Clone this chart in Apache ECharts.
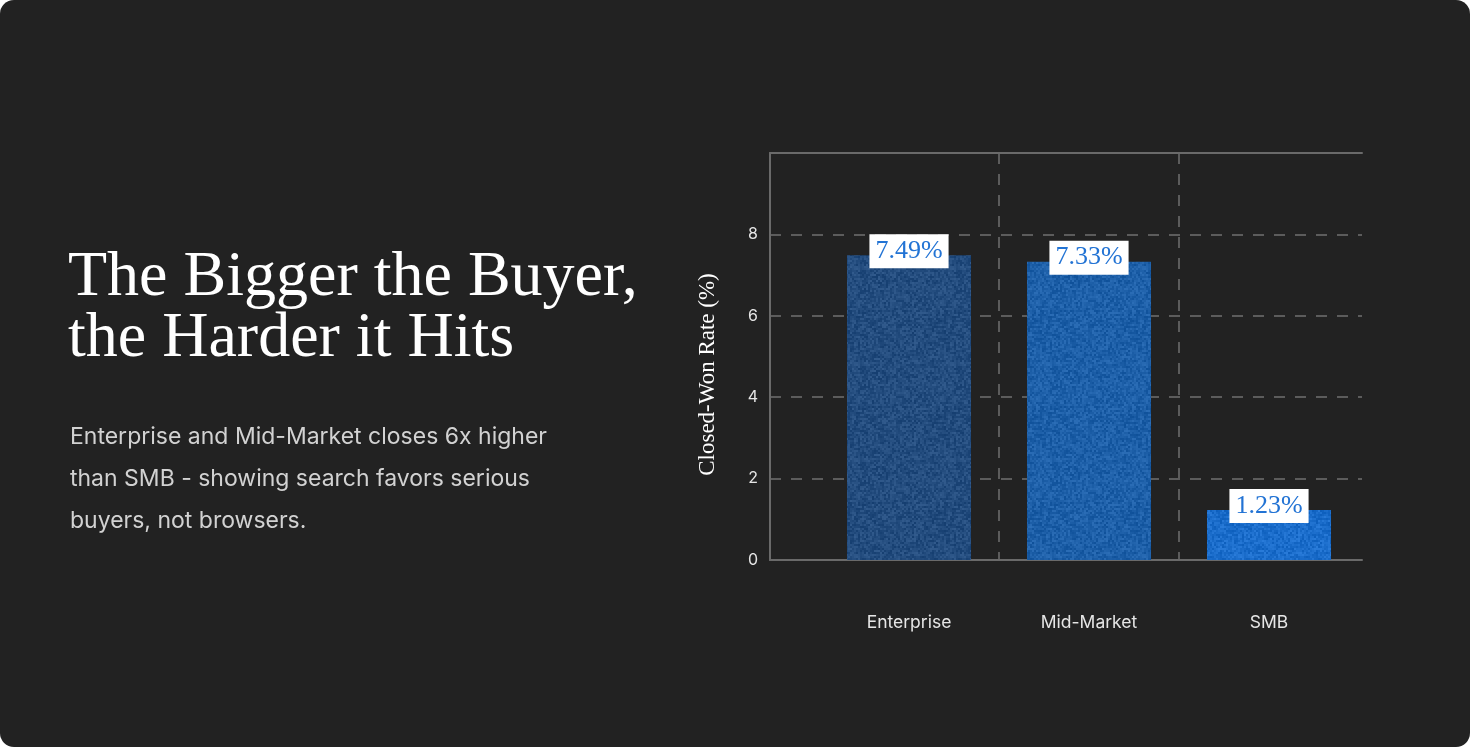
<!DOCTYPE html>
<html><head><meta charset="utf-8">
<script src="https://cdn.jsdelivr.net/npm/echarts@6/dist/echarts.min.js"></script>
<style>
html,body{margin:0;padding:0;background:#ffffff;}
#chart{width:1470px;height:747px;background:#222222;border-radius:14px;overflow:hidden;}
</style></head><body>
<div id="chart"></div>
<script>
const categories = ['Enterprise', 'Mid-Market', 'SMB'];
const closedWonRate = [7.49, 7.33, 1.23];
const barColors = ['#234c7e', '#1d5fa8', '#1b6dcb'];
const titleLines = ['The Bigger the Buyer,', 'the Harder it Hits'];
const subtitleLines = ['Enterprise and Mid-Market closes 6x higher', 'than SMB - showing search favors serious', 'buyers, not browsers.'];
const yAxisName = 'Closed-Won Rate (%)';

function hash(x, y) {
  let n = Math.imul(x, 374761393) ^ Math.imul(y, 668265263);
  n = Math.imul(n ^ (n >>> 13), 1274126177);
  n = n ^ (n >>> 16);
  return ((n >>> 0) % 1000) / 500 - 1;
}
function noiseTexture(hex) {
  const c = document.createElement('canvas');
  c.width = c.height = 96;
  const ctx = c.getContext('2d');
  const r = parseInt(hex.slice(1, 3), 16), g = parseInt(hex.slice(3, 5), 16), b = parseInt(hex.slice(5, 7), 16);
  for (let y = 0; y < 48; y++) {
    for (let x = 0; x < 48; x++) {
      const d = hash(x, y) * 14;
      const cl = v => Math.max(0, Math.min(255, Math.round(v + d)));
      ctx.fillStyle = 'rgb(' + cl(r) + ',' + cl(g) + ',' + cl(b) + ')';
      ctx.fillRect(x * 2, y * 2, 2, 2);
    }
  }
  return c;
}

const chart = echarts.init(document.getElementById('chart'), null, {renderer: 'canvas'});
const axisLineStyle = {color: '#6a6a6a', width: 2};
const dashStyle = {color: '#5c5c5c', width: 2, type: [11, 10]};

const option = {
  backgroundColor: 'transparent',
  animation: false,
  title: [
    {
      text: titleLines.join('\n'), left: 68, top: 248, padding: 0,
      textStyle: {fontFamily: 'Liberation Serif', fontSize: 64, fontWeight: 'normal', color: '#ffffff', lineHeight: 61}
    },
    {
      text: subtitleLines.join('\n'), left: 70, top: 416, padding: 0,
      textStyle: {fontFamily: 'Inter', fontSize: 23, fontWeight: 'normal', color: '#d2d2d2', lineHeight: 42}
    }
  ],
  grid: [
    {left: 770, right: 108, top: 153, bottom: 187},
    {left: 819, right: 111, top: 153, bottom: 187}
  ],
  xAxis: [
    {gridIndex: 0, type: 'category', data: categories, position: 'bottom',
      axisLine: {show: true, lineStyle: axisLineStyle}, axisTick: {show: false}, axisLabel: {show: false}, splitLine: {show: false}},
    {gridIndex: 0, type: 'category', data: categories, position: 'top',
      axisLine: {show: true, lineStyle: axisLineStyle}, axisTick: {show: false}, axisLabel: {show: false}, splitLine: {show: false}},
    {gridIndex: 1, type: 'category', data: categories, position: 'bottom',
      axisLine: {show: false}, axisTick: {show: false},
      axisLabel: {color: '#e6e6e6', fontFamily: 'Inter', fontSize: 17.5, margin: 54},
      splitLine: {show: true, showMinLine: false, showMaxLine: false, lineStyle: dashStyle}}
  ],
  yAxis: [
    {gridIndex: 0, type: 'value', min: 0, max: 10, interval: 2,
      axisLine: {show: true, lineStyle: axisLineStyle}, axisTick: {show: false},
      axisLabel: {color: '#e6e6e6', fontFamily: 'Inter', fontSize: 16, margin: 12, formatter: v => (v === 10 ? '' : String(v))},
      splitLine: {show: true, lineStyle: dashStyle},
      name: yAxisName, nameLocation: 'middle', nameGap: 51,
      nameTextStyle: {fontFamily: 'Liberation Serif', fontSize: 23, color: '#ffffff', padding: [0, 36, 0, 0]}
    },
    {gridIndex: 1, type: 'value', min: 0, max: 10, interval: 2, show: false}
  ],
  series: [{
    type: 'bar', xAxisIndex: 2, yAxisIndex: 1, barWidth: 124,
    data: closedWonRate.map((v, i) => ({value: v, itemStyle: {color: {image: noiseTexture(barColors[i]), repeat: 'repeat'}}})),
    label: {
      show: true, position: 'top', distance: -13,
      formatter: p => p.value.toFixed(2) + '%',
      backgroundColor: '#ffffff', color: '#2273d4',
      fontFamily: 'Liberation Serif', fontSize: 26, lineHeight: 28, padding: [3, 6]
    }
  }]
};
chart.setOption(option);
</script>
</body></html>
